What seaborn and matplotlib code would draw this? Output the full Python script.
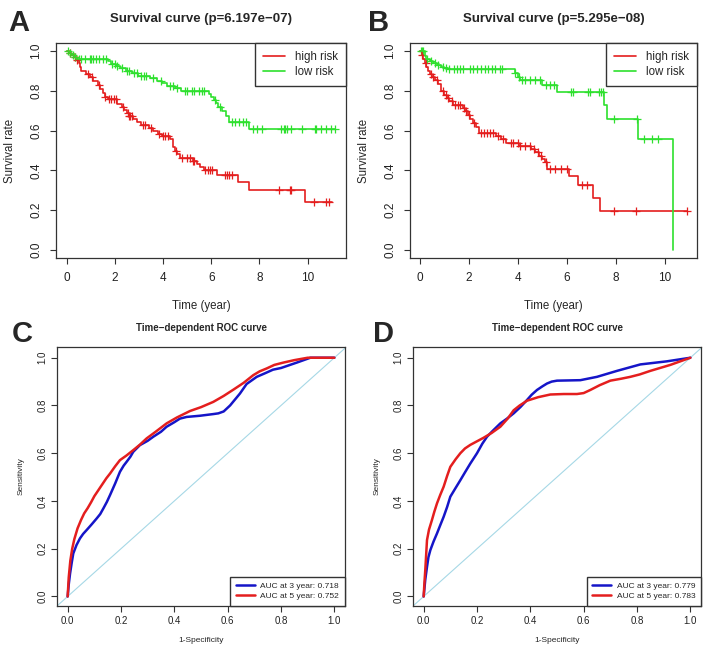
import numpy as np
import matplotlib
matplotlib.use("Agg")
import matplotlib.pyplot as plt
import seaborn as sns

# ---- Kaplan-Meier data ----
# Panel A, high risk
a_high_t = [0, 0.1, 0.2, 0.3, 0.4, 0.5, 0.55, 0.6, 0.8, 0.95, 1.1, 1.3, 1.4, 1.5, 1.6, 1.7,
            2.1, 2.3, 2.4, 2.5, 2.6, 2.75, 2.9, 3.1, 3.4, 3.6, 3.8, 3.95, 4.3, 4.4, 4.5, 4.6,
            4.7, 5.25, 5.4, 5.55, 5.7, 6.25, 7.1, 7.55, 9.9, 11.0]
a_high_s = [1.0, 0.99, 0.98, 0.97, 0.955, 0.94, 0.92, 0.90, 0.885, 0.87, 0.85, 0.83, 0.81,
            0.79, 0.77, 0.757, 0.735, 0.72, 0.705, 0.69, 0.675, 0.66, 0.645, 0.63, 0.615,
            0.60, 0.585, 0.572, 0.556, 0.52, 0.50, 0.48, 0.46, 0.445, 0.43, 0.415, 0.40,
            0.377, 0.34, 0.30, 0.243, 0.243]
a_high_cens = [0.15, 0.35, 0.45, 0.9, 1.05, 1.35, 1.6, 1.75, 1.85, 1.95, 2.05, 2.35, 2.55,
               2.6, 2.65, 2.7, 3.15, 3.25, 3.5, 3.85, 4.0, 4.1, 4.2, 4.55, 4.8, 5.0, 5.1,
               5.25, 5.3, 5.75, 5.85, 5.95, 6.05, 6.55, 6.65, 6.75, 6.85, 8.8, 9.25, 9.3,
               10.25, 10.75, 10.9]
# Panel A, low risk
a_low_t = [0, 0.1, 0.2, 0.3, 0.4, 1.7, 1.85, 2.05, 2.2, 2.45, 2.7, 2.95, 3.45, 3.75, 3.95,
           4.15, 4.5, 4.75, 5.9, 6.0, 6.1, 6.2, 6.3, 6.45, 6.6, 6.75, 7.55, 11.15]
a_low_s = [1.0, 0.99, 0.98, 0.97, 0.962, 0.95, 0.937, 0.925, 0.912, 0.90, 0.887, 0.875,
           0.862, 0.85, 0.837, 0.825, 0.812, 0.80, 0.785, 0.77, 0.755, 0.74, 0.72, 0.70,
           0.672, 0.645, 0.61, 0.61]
a_low_cens = [0.05, 0.15, 0.25, 0.35, 0.5, 0.6, 0.75, 0.95, 1.0, 1.1, 1.2, 1.35, 1.5, 1.65,
              1.9, 2.0, 2.1, 2.3, 2.5, 2.6, 2.8, 2.9, 3.1, 3.2, 3.3, 3.6, 3.9, 4.3, 4.4, 4.6,
              4.9, 5.0, 5.2, 5.3, 5.5, 5.6, 5.7, 6.15, 6.35, 6.85, 7.0, 7.15, 7.3, 7.45,
              7.75, 7.9, 8.1, 8.9, 9.0, 9.05, 9.15, 9.3, 9.75, 10.3, 10.35, 10.55, 10.75,
              10.95, 11.15]

# Panel B, high risk
b_high_t = [0, 0.1, 0.15, 0.2, 0.27, 0.35, 0.4, 0.5, 0.6, 0.73, 0.87, 1.0, 1.1, 1.2, 1.35,
            1.75, 1.85, 1.95, 2.05, 2.15, 2.3, 2.4, 3.1, 3.3, 3.5, 4.05, 4.55, 4.7, 4.85,
            5.0, 5.1, 5.2, 6.1, 6.45, 7.05, 7.35, 10.9]
b_high_s = [1.0, 0.98, 0.958, 0.94, 0.92, 0.90, 0.883, 0.87, 0.855, 0.833, 0.80, 0.78,
            0.765, 0.75, 0.73, 0.715, 0.70, 0.68, 0.66, 0.64, 0.62, 0.59, 0.575, 0.56,
            0.54, 0.523, 0.506, 0.49, 0.47, 0.455, 0.44, 0.405, 0.372, 0.327, 0.26,
            0.196, 0.196]
b_high_cens = [0.1, 0.25, 0.45, 0.55, 0.7, 0.95, 1.05, 1.15, 1.3, 1.45, 1.55, 1.65, 1.8,
               1.9, 2.0, 2.2, 2.5, 2.6, 2.75, 2.85, 3.0, 3.2, 3.4, 3.7, 3.8, 4.0, 4.1, 4.3,
               4.5, 4.65, 4.8, 4.95, 5.15, 5.3, 5.5, 5.75, 6.0, 6.6, 6.8, 7.9, 8.8, 10.9]
# Panel B, low risk
b_low_t = [0, 0.2, 0.27, 0.4, 0.55, 0.7, 0.88, 1.0, 1.15, 3.9, 4.0, 4.1, 5.0, 5.6, 7.5,
           7.65, 8.9, 10.34]
b_low_s = [1.0, 0.975, 0.96, 0.95, 0.94, 0.93, 0.92, 0.915, 0.911, 0.89, 0.87, 0.855,
           0.83, 0.795, 0.73, 0.66, 0.556, 0.0]
b_low_cens = [0.05, 0.1, 0.15, 0.3, 0.45, 0.6, 0.75, 0.95, 1.05, 1.2, 1.4, 1.5, 1.65, 1.75,
              2.05, 2.15, 2.35, 2.5, 2.65, 2.8, 2.95, 3.05, 3.25, 3.35, 3.9, 4.05, 4.15,
              4.3, 4.5, 4.7, 4.9, 5.15, 5.3, 5.45, 6.15, 6.25, 6.85, 6.95, 7.3, 7.4, 7.45,
              7.9, 8.85, 9.15, 9.45, 9.7]

# ---- ROC data ----
c3_fpr = [0, 0.004, 0.009, 0.015, 0.021, 0.033, 0.046, 0.058, 0.071, 0.09, 0.109, 0.122,
          0.134, 0.147, 0.159, 0.178, 0.196, 0.21, 0.221, 0.235, 0.246, 0.271, 0.3, 0.321,
          0.35, 0.371, 0.4, 0.421, 0.446, 0.496, 0.546, 0.565, 0.585, 0.609, 0.646, 0.671,
          0.709, 0.74, 0.77, 0.8, 0.86, 0.91, 1.0]
c3_tpr = [0, 0.05, 0.096, 0.14, 0.18, 0.215, 0.243, 0.262, 0.278, 0.302, 0.327, 0.345,
          0.369, 0.396, 0.425, 0.473, 0.522, 0.548, 0.564, 0.585, 0.606, 0.634, 0.652,
          0.669, 0.69, 0.711, 0.73, 0.745, 0.752, 0.757, 0.764, 0.767, 0.775, 0.80, 0.85,
          0.89, 0.92, 0.935, 0.95, 0.957, 0.98, 1.0, 1.0]
c5_fpr = [0, 0.004, 0.01, 0.017, 0.025, 0.037, 0.05, 0.062, 0.075, 0.088, 0.1, 0.115, 0.13,
          0.145, 0.159, 0.178, 0.196, 0.22, 0.246, 0.27, 0.296, 0.33, 0.371, 0.41, 0.459,
          0.5, 0.546, 0.585, 0.621, 0.66, 0.696, 0.72, 0.746, 0.775, 0.81, 0.85, 0.9, 1.0]
c5_tpr = [0, 0.08, 0.15, 0.2, 0.24, 0.285, 0.32, 0.348, 0.37, 0.395, 0.42, 0.445, 0.47,
          0.495, 0.515, 0.545, 0.571, 0.59, 0.613, 0.635, 0.662, 0.69, 0.725, 0.75, 0.777,
          0.793, 0.815, 0.84, 0.866, 0.895, 0.927, 0.943, 0.955, 0.97, 0.98, 0.99, 1.0, 1.0]
d3_fpr = [0, 0.006, 0.0125, 0.018, 0.025, 0.037, 0.05, 0.062, 0.075, 0.088, 0.1, 0.12,
          0.1375, 0.155, 0.175, 0.2, 0.22, 0.2375, 0.26, 0.2875, 0.3125, 0.3375, 0.3625,
          0.3875, 0.405, 0.425, 0.445, 0.4625, 0.48, 0.5, 0.5875, 0.65, 0.725, 0.8125,
          0.9125, 1.0]
d3_tpr = [0, 0.07, 0.124, 0.165, 0.194, 0.23, 0.264, 0.298, 0.334, 0.375, 0.418, 0.455,
          0.487, 0.52, 0.557, 0.6, 0.64, 0.669, 0.695, 0.725, 0.745, 0.767, 0.793, 0.823,
          0.845, 0.865, 0.88, 0.892, 0.9, 0.904, 0.906, 0.92, 0.945, 0.972, 0.985, 1.0]
d5_fpr = [0, 0.003, 0.006, 0.0125, 0.02, 0.031, 0.04, 0.05, 0.062, 0.075, 0.088, 0.1, 0.12,
          0.1375, 0.155, 0.175, 0.2, 0.225, 0.255, 0.2875, 0.315, 0.3375, 0.36, 0.3875,
          0.43, 0.475, 0.525, 0.575, 0.6, 0.625, 0.66, 0.7, 0.74, 0.775, 0.81, 0.85,
          0.925, 1.0]
d5_tpr = [0, 0.06, 0.11, 0.236, 0.28, 0.32, 0.355, 0.39, 0.425, 0.46, 0.505, 0.543, 0.575,
          0.6, 0.62, 0.635, 0.65, 0.665, 0.685, 0.711, 0.745, 0.78, 0.8, 0.82, 0.835,
          0.846, 0.848, 0.848, 0.852, 0.865, 0.885, 0.904, 0.912, 0.92, 0.93, 0.945, 0.97,
          1.0]

RED = "#E41E1E"
GREEN = "#2EE02E"
BLUE = "#1515C8"
EDGE = "#333333"

sns.set_style("white")
plt.rcParams["font.family"] = ["Liberation Sans", "DejaVu Sans"]

W, H = 705, 650
fig = plt.figure(figsize=(W / 100, H / 100), dpi=100)


def add_ax(l, t, r, b):
    return fig.add_axes([l / W, 1 - b / H, (r - l) / W, (b - t) / H])


def style_ax(ax, labelsize, pad):
    for sp in ax.spines.values():
        sp.set_visible(True)
        sp.set_color(EDGE)
        sp.set_linewidth(0.9)
    ax.tick_params(bottom=True, left=True, direction="out", length=4, width=0.8,
                   color=EDGE, labelsize=labelsize, labelcolor="#222222", pad=pad)
    ax.tick_params(axis="y", labelrotation=90)
    for lbl in ax.get_yticklabels():
        lbl.set_va("center")


def km_panel(ax, title, curves, xlim):
    for t, s, cens, col, lab in curves:
        sns.lineplot(x=t, y=s, ax=ax, color=col, lw=1.2, drawstyle="steps-post",
                     sort=False, estimator=None, label=lab)
        s_arr = np.asarray(s)
        idx = np.searchsorted(t, cens, side="right") - 1
        sns.scatterplot(x=cens, y=s_arr[idx], ax=ax, marker="+", color=col, s=32,
                        linewidth=0.9, legend=False)
    ax.set_xlim(xlim)
    ax.set_ylim(-0.04, 1.04)
    ax.set_xticks([0, 2, 4, 6, 8, 10])
    ax.set_yticks([0, 0.2, 0.4, 0.6, 0.8, 1.0])
    ax.set_yticklabels(["0.0", "0.2", "0.4", "0.6", "0.8", "1.0"])
    style_ax(ax, 8.5, 6)
    ax.set_title(title, fontsize=9.5, fontweight="bold", pad=15)
    ax.set_xlabel("Time (year)", fontsize=8.3, va="center")
    ax.set_ylabel("Survival rate", fontsize=8.3, va="center")
    ax.xaxis.set_label_coords(0.5, -0.223)
    ax.yaxis.set_label_coords(-0.159, 0.5)
    ax.legend(handles=ax.get_lines()[:2], loc="upper right", fontsize=8.3,
              borderaxespad=0, fancybox=False, framealpha=1, edgecolor=EDGE,
              handlelength=1.85, handletextpad=0.9, borderpad=0.7, labelspacing=0.25)


def roc_panel(ax, curves):
    ax.axline((0, 0), (1, 1), color="#A6D8E6", lw=0.8)
    for fpr, tpr, col, lab in curves:
        sns.lineplot(x=fpr, y=tpr, ax=ax, color=col, lw=1.8, sort=False,
                     estimator=None, label=lab)
    ax.set_xlim(-0.04, 1.04)
    ax.set_ylim(-0.04, 1.045)
    ticks = [0, 0.2, 0.4, 0.6, 0.8, 1.0]
    ax.set_xticks(ticks)
    ax.set_yticks(ticks)
    ax.set_xticklabels(["0.0", "0.2", "0.4", "0.6", "0.8", "1.0"])
    ax.set_yticklabels(["0.0", "0.2", "0.4", "0.6", "0.8", "1.0"])
    style_ax(ax, 7, 3)
    ax.set_title("Time\u2212dependent ROC curve", fontsize=7, fontweight="bold", pad=11.5)
    ax.set_xlabel("1-Specificity", fontsize=6, va="center")
    ax.set_ylabel("Sensitivity", fontsize=6, va="center")
    ax.xaxis.set_label_coords(0.5, -0.135)
    ax.yaxis.set_label_coords(-0.123, 0.5)
    ax.legend(handles=ax.get_lines()[1:3], loc="lower right", fontsize=6,
              borderaxespad=0, fancybox=False, framealpha=1, edgecolor=EDGE,
              handlelength=2.2, handletextpad=0.7, borderpad=0.7, labelspacing=0.25)


ax_a = add_ax(56, 43, 346, 258)
km_panel(ax_a, "Survival curve (p=6.197e\u221207)",
         [(a_high_t, a_high_s, a_high_cens, RED, "high risk"),
          (a_low_t, a_low_s, a_low_cens, GREEN, "low risk")], (-0.44, 11.59))

ax_b = add_ax(410, 43, 697, 258)
km_panel(ax_b, "Survival curve (p=5.295e\u221208)",
         [(b_high_t, b_high_s, b_high_cens, RED, "high risk"),
          (b_low_t, b_low_s, b_low_cens, GREEN, "low risk")], (-0.4, 11.3))

ax_c = add_ax(57, 347, 345, 606)
roc_panel(ax_c, [(c3_fpr, c3_tpr, BLUE, "AUC at 3 year: 0.718"),
                 (c5_fpr, c5_tpr, RED, "AUC at 5 year: 0.752")])

ax_d = add_ax(413, 347, 701, 606)
roc_panel(ax_d, [(d3_fpr, d3_tpr, BLUE, "AUC at 3 year: 0.779"),
                 (d5_fpr, d5_tpr, RED, "AUC at 5 year: 0.783")])

for letter, x, y in [("A", 8, 31), ("B", 368, 31), ("C", 12, 342), ("D", 373, 342)]:
    fig.text(x / W, 1 - y / H, letter, fontsize=21, fontweight="bold", va="baseline")

fig.savefig("out.png", dpi=100)
